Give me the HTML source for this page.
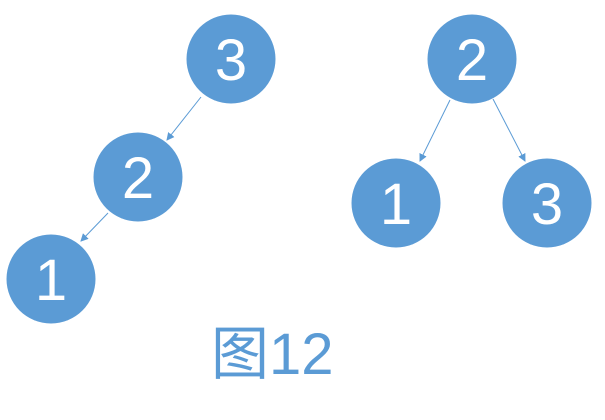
<!DOCTYPE html>
<html><head><meta charset="utf-8"><style>
html,body{margin:0;padding:0;background:#fff;}
svg{display:block;}
</style></head><body>
<svg width="605" height="420" viewBox="0 0 605 420" xmlns="http://www.w3.org/2000/svg">
<defs>
<marker id="a" markerWidth="8" markerHeight="8" refX="7" refY="4" orient="auto" markerUnits="userSpaceOnUse">
<path d="M0,0 L8,4 L0,8 Z" fill="#5b9bd5" stroke="none"/>
</marker>
</defs>
<g stroke="#5b9bd5" stroke-width="1" marker-end="url(#a)">
<line x1="201" y1="97" x2="167" y2="140"/>
<line x1="108" y1="213" x2="81" y2="241"/>
<line x1="450" y1="100" x2="420" y2="161"/>
<line x1="493" y1="99" x2="525" y2="161"/>
</g>
<g fill="#5b9bd5">
<circle cx="231" cy="59" r="44.5"/>
<circle cx="138" cy="177" r="44.5"/>
<circle cx="51" cy="279" r="44.5"/>
<circle cx="472" cy="59" r="44.5"/>
<circle cx="396" cy="203" r="44.5"/>
<circle cx="547" cy="203" r="44.5"/>
</g>
<g fill="#fff" font-family="Liberation Sans, sans-serif" font-size="58" text-anchor="middle">
<text x="231" y="80">3</text>
<text x="138" y="198">2</text>
<text x="51" y="300">1</text>
<text x="472" y="80">2</text>
<text x="396" y="224">1</text>
<text x="547" y="224">3</text>
</g>
<text x="211" y="374" fill="#5b9bd5" font-family="Liberation Sans, 'Noto Sans CJK SC', sans-serif" font-size="58">图12</text>
</svg>
</body></html>
